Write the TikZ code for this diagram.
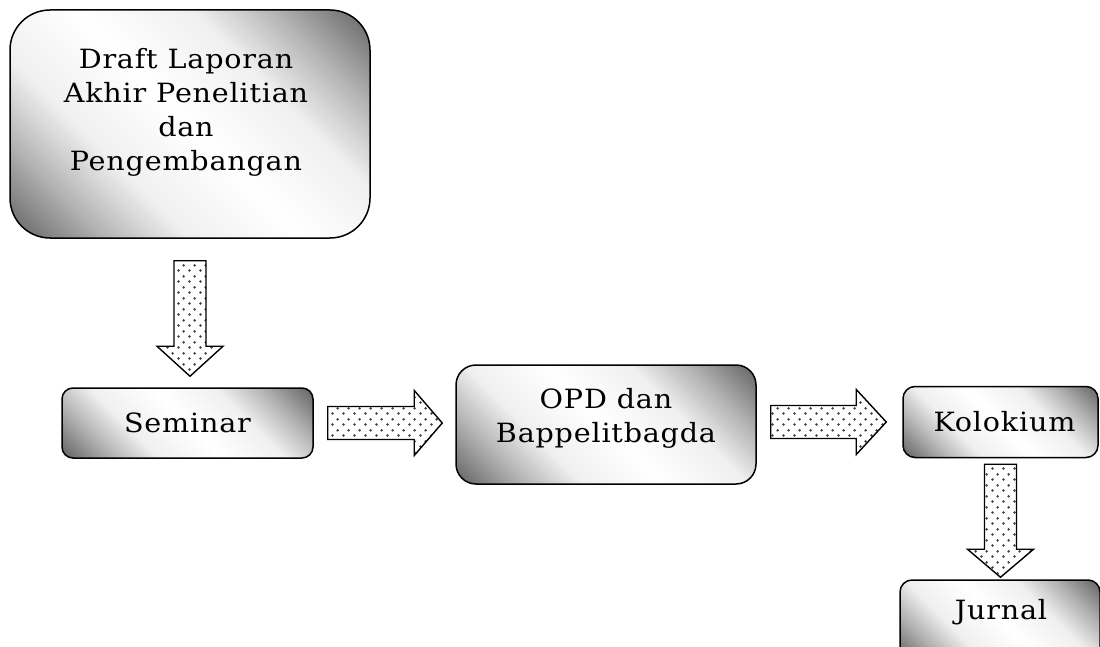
\documentclass[tikz,border=0pt]{standalone}
\usepackage{fontspec}
\setmainfont{DejaVu Serif}[FakeStretch=1.08, LetterSpace=3]
\usetikzlibrary{calc,patterns.meta}

% sparse staggered dots for the block arrows
\tikzdeclarepattern{
  name=sparsedots,
  type=uncolored,
  bottom left={(0pt,0pt)},
  top right={(11pt,11pt)},
  tile size={(11pt,11pt)},
  code={
    \fill (2.75pt,2.75pt) circle (1.5pt);
    \fill (8.25pt,8.25pt) circle (1.5pt);
  }
}

% diagonal grey-white-grey fill of the boxes
\pgfdeclareverticalshading{boxshade}{100bp}{%
  color(0bp)=(black!64); color(16bp)=(black!58);
  color(26bp)=(black!30); color(36bp)=(black!6);
  color(50bp)=(white);
  color(64bp)=(black!6); color(74bp)=(black!30);
  color(84bp)=(black!58); color(100bp)=(black!64)}

\tikzset{
  box/.style={draw=black, line width=1.5pt, inner sep=0pt,
    shading=boxshade, shading angle=-45},
  label/.style={font=\fontsize{26.5}{34}\selectfont, align=center, inner sep=0pt},
  blockarrowstyle/.style={draw=black, line width=1.4pt, line join=miter,
    preaction={fill=white}, pattern=sparsedots, pattern color=black!75},
}

% block arrow: start, end, shaft half-width, head half-width, head length
\newcommand\blockarrow[5]{%
  \coordinate (ba-s) at (#1);
  \coordinate (ba-e) at (#2);
  \coordinate (ba-h) at ($(ba-e)!#5!(ba-s)$);
  \draw[blockarrowstyle]
    ($(ba-s)!#3!90:(ba-e)$) -- ($(ba-h)!#3!90:(ba-e)$) --
    ($(ba-h)!#4!90:(ba-e)$) -- (ba-e) --
    ($(ba-h)!#4!-90:(ba-e)$) -- ($(ba-h)!#3!-90:(ba-e)$) --
    ($(ba-s)!#3!-90:(ba-e)$) -- cycle;
}

\begin{document}
\begin{tikzpicture}[x=1pt, y=-1pt]
  \useasboundingbox (0,0) rectangle (1100,647);
  \clip (0,0) rectangle (1100,647);

  % boxes
  \node[box, rounded corners=40pt, minimum width=360pt, minimum height=228pt]
    (draft) at (190,124) {};
  \node[label] (drafttext) at (186,112)
    {Draft Laporan\\Akhir Penelitian\\dan\\Pengembangan};

  \node[box, rounded corners=11pt, minimum width=251pt, minimum height=70pt]
    (sem) at (187.5,423) {};
  \node[label] (semtext) at (sem.center) {Seminar};

  \node[box, rounded corners=20pt, minimum width=300pt, minimum height=119pt]
    (opd) at (606,424.5) {};
  \node[label] (opdtext) at ($(opd.center)+(0,-6)$) {OPD dan\\Bappelitbagda};

  \node[box, rounded corners=12pt, minimum width=195pt, minimum height=71pt]
    (kol) at (1000.5,422) {};
  \node[label] (koltext) at ($(kol.center)+(4,0)$) {Kolokium};

  \node[box, rounded corners=12pt, minimum width=200pt, minimum height=80pt]
    (jur) at (1000,620) {};
  \node[label] (jurtext) at (1001,612) {Jurnal};

  % connectors
  \blockarrow{$(draft.south)+(0,22)$}{$(draft.south |- sem.north)+(0,-11)$}{16pt}{33pt}{30pt}
  \blockarrow{$(sem.east)+(14,0)$}{$(sem.east -| opd.west)+(-13,0)$}{16.5pt}{32.5pt}{28pt}
  \blockarrow{$(kol.west -| opd.east)+(14,0)$}{$(kol.west)+(-16,0)$}{16.5pt}{32.5pt}{30pt}
  \blockarrow{$(kol.south)+(0,6)$}{$(kol.south |- jur.north)+(0,-2)$}{16pt}{33pt}{28pt}
\end{tikzpicture}
\end{document}
